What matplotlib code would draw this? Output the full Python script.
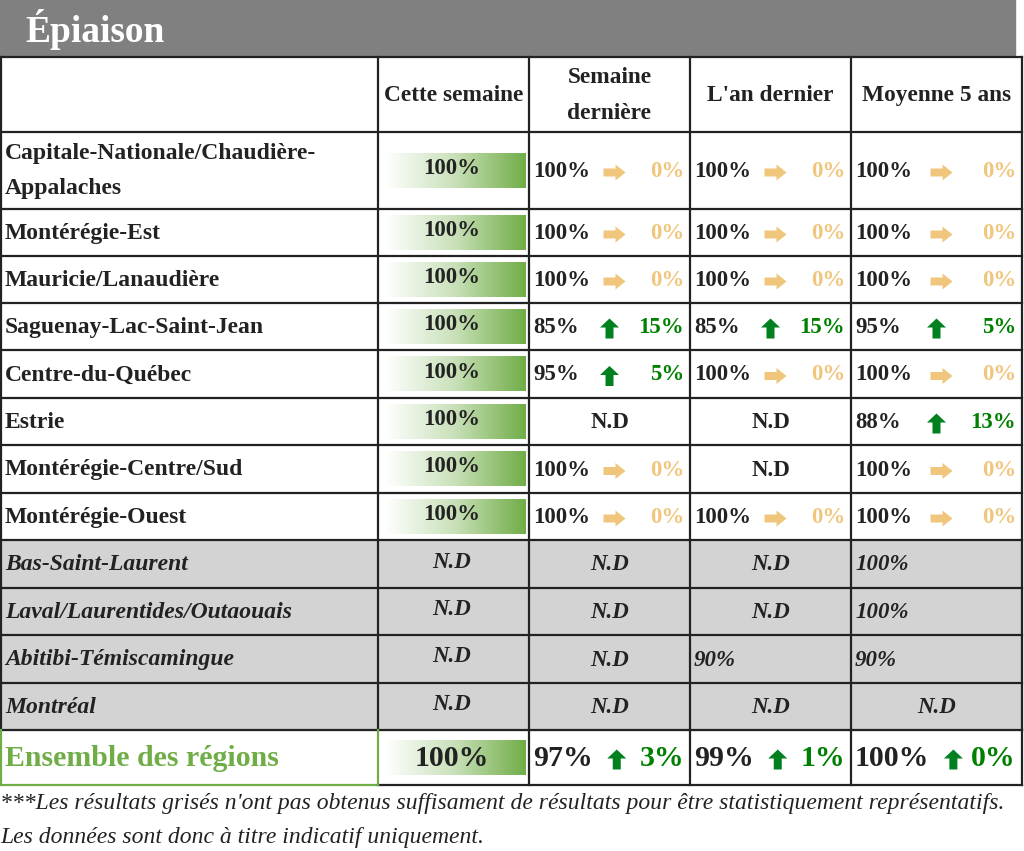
import numpy as np
import matplotlib.pyplot as plt
from matplotlib.colors import LinearSegmentedColormap
from matplotlib.patches import Polygon, Rectangle

plt.rcParams['font.family'] = ['Liberation Serif', 'DejaVu Serif']

title = 'Épiaison'
headers = ['Cette semaine', 'Semaine\ndernière', "L'an dernier", 'Moyenne 5 ans']
regions = ['Capitale-Nationale/Chaudière-\nAppalaches', 'Montérégie-Est', 'Mauricie/Lanaudière',
           'Saguenay-Lac-Saint-Jean', 'Centre-du-Québec', 'Estrie', 'Montérégie-Centre/Sud',
           'Montérégie-Ouest', 'Bas-Saint-Laurent', 'Laval/Laurentides/Outaouais',
           'Abitibi-Témiscamingue', 'Montréal', 'Ensemble des régions']
greyed = [False] * 8 + [True] * 4 + [False]

this_week = ['100%'] * 8 + ['N.D'] * 4 + ['100%']

last_week = ['100%', '100%', '100%', '85%', '95%', 'N.D', '100%', '100%', 'N.D', 'N.D', 'N.D', 'N.D', '97%']
last_week_delta = ['0%', '0%', '0%', '15%', '5%', None, '0%', '0%', None, None, None, None, '3%']
last_week_trend = ['flat', 'flat', 'flat', 'up', 'up', None, 'flat', 'flat', None, None, None, None, 'up']

last_year = ['100%', '100%', '100%', '85%', '100%', 'N.D', 'N.D', '100%', 'N.D', 'N.D', '90%', 'N.D', '99%']
last_year_delta = ['0%', '0%', '0%', '15%', '0%', None, None, '0%', None, None, None, None, '1%']
last_year_trend = ['flat', 'flat', 'flat', 'up', 'flat', None, None, 'flat', None, None, None, None, 'up']

avg5 = ['100%', '100%', '100%', '95%', '100%', '88%', '100%', '100%', '100%', '100%', '90%', 'N.D', '100%']
avg5_delta = ['0%', '0%', '0%', '5%', '0%', '13%', '0%', '0%', None, None, None, None, '0%']
avg5_trend = ['flat', 'flat', 'flat', 'up', 'flat', 'up', 'flat', 'flat', None, None, None, None, 'up']

notes = ["***Les résultats grisés n'ont pas obtenus suffisament de résultats pour être statistiquement représentatifs.",
         'Les données sont donc à titre indicatif uniquement.']

# layout (pixels)
col_x = [1, 378, 529, 690, 851, 1022]
row_y = [57, 132, 209, 256, 303, 350, 398, 445, 493, 540, 588, 635, 683, 730, 785]

DARK = '#222222'
GREEN = '#008000'
ORANGE = '#f0c67c'
LEAF = '#70ad47'
GREY = '#d3d3d3'

fig = plt.figure(figsize=(10.24, 8.51), dpi=100)
ax = fig.add_axes([0, 0, 1, 1])
ax.set_xlim(0, 1024)
ax.set_ylim(851, 0)
ax.axis('off')
renderer = fig.canvas.get_renderer()

# title bar
ax.add_patch(Rectangle((0, 0), 1015, 55, color='#808080', zorder=1))
ax.text(25, 29, title, color='white', fontsize=27, fontweight='bold', va='center', ha='left')

cmap = LinearSegmentedColormap.from_list('bar', ['#ffffff', '#c8e0b8', LEAF])
grad = np.linspace(0, 1, 256).reshape(1, -1)


def arrow(x, y, kind, big=False):
    if kind == 'flat':
        pts = [(x - 11, y - 4), (x + 1, y - 4), (x + 1, y - 8), (x + 11, y),
               (x + 1, y + 8), (x + 1, y + 4), (x - 11, y + 4)]
        col = ORANGE
    else:
        pts = [(x - 4, y + 10), (x - 4, y - 1), (x - 9.5, y - 1), (x, y - 10),
               (x + 9.5, y - 1), (x + 4, y - 1), (x + 4, y + 10)]
        col = '#00801f'
    ax.add_patch(Polygon(pts, closed=True, color=col, lw=0, zorder=4))


n = len(regions)
for i in range(n):
    y0, y1 = row_y[i + 1], row_y[i + 2]
    yc = (y0 + y1) / 2
    total = i == n - 1
    grey = greyed[i]
    if grey:
        ax.add_patch(Rectangle((col_x[0], y0), col_x[-1] - col_x[0], y1 - y0, color=GREY, zorder=1))
    style = 'italic' if grey else 'normal'
    fs = 21.5 if total else 16.5
    lfs = 21.5 if total else 17

    # region label
    if total:
        ax.text(5, yc + 1, regions[i], fontsize=lfs, fontweight='bold', color=LEAF, va='center')
    elif '\n' in regions[i]:
        a, b = regions[i].split('\n')
        ax.text(5, yc - 17, a, fontsize=lfs, fontweight='bold', va='center', color=DARK)
        ax.text(5, yc + 18, b, fontsize=lfs, fontweight='bold', va='center', color=DARK)
    else:
        ax.text(5, yc + 1, regions[i], fontsize=lfs, fontweight='bold', va='center', color=DARK,
                style=style)

    # this week
    cx = (col_x[1] + col_x[2]) / 2
    if this_week[i] != 'N.D':
        ax.imshow(grad, cmap=cmap, extent=(385, 526, yc + 17.5, yc - 17.5), aspect='auto', zorder=2)
    ax.text(cx - 2, yc - 2 if not total else yc + 1, this_week[i], fontsize=fs, fontweight='bold',
            ha='center', va='center', color=DARK, style=style, zorder=3)

    # comparison columns
    for j, (vals, deltas, trends) in enumerate([(last_week, last_week_delta, last_week_trend),
                                                 (last_year, last_year_delta, last_year_trend),
                                                 (avg5, avg5_delta, avg5_trend)]):
        xl, xr = col_x[j + 2], col_x[j + 3]
        v = vals[i]
        if v == 'N.D':
            ax.text((xl + xr) / 2, yc + 1, v, fontsize=fs, fontweight='bold', ha='center',
                    va='center', color=DARK, style=style)
            continue
        t = ax.text(xl + 4, yc + 1, v, fontsize=fs, fontweight='bold', ha='left', va='center',
                    color=DARK, style=style)
        if deltas[i] is not None:
            col = ORANGE if trends[i] == 'flat' else GREEN
            if total:
                bb = t.get_window_extent(renderer).transformed(ax.transData.inverted())
                ax_x = max(bb.x0, bb.x1) + 24
            elif trends[i] == 'flat':
                ax_x = (xl + xr) / 2 + 5
            else:
                ax_x = (xl + xr) / 2
            arrow(ax_x, yc + 2, trends[i], big=total)
            ax.text(xr - 6, yc + 1, deltas[i], fontsize=fs, fontweight='bold', ha='right',
                    va='center', color=col)

# header
hy = (row_y[0] + row_y[1]) / 2
for j, h in enumerate(headers):
    cx = (col_x[j + 1] + col_x[j + 2]) / 2
    ax.text(cx, hy + 1, h, fontsize=16.8, fontweight='bold', ha='center', va='center',
            color=DARK, linespacing=1.95)

# grid lines
for k, y in enumerate(row_y):
    if k == len(row_y) - 1:
        ax.plot([col_x[0], col_x[1]], [y, y], color=LEAF, lw=1.6, zorder=5)
        ax.plot([col_x[1], col_x[-1]], [y, y], color=DARK, lw=1.6, zorder=5)
    else:
        ax.plot([col_x[0], col_x[-1]], [y, y], color=DARK, lw=1.6, zorder=5)
for x in col_x:
    ax.plot([x, x], [row_y[0], row_y[-2]], color=DARK, lw=1.6, zorder=5)
    c = LEAF if x in (col_x[0], col_x[1]) else DARK
    ax.plot([x, x], [row_y[-2], row_y[-1]], color=c, lw=1.6, zorder=6 if c == LEAF else 5)

# footnotes
ax.text(0, 803, notes[0], fontsize=17, style='italic', color=DARK, va='center')
ax.text(0, 838, notes[1], fontsize=17, style='italic', color=DARK, va='center')

ax.set_xlim(0, 1024)
ax.set_ylim(851, 0)
fig.savefig('out.png', dpi=100, facecolor='white')
